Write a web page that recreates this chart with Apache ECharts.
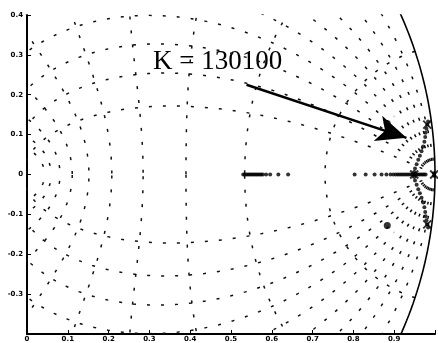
<!DOCTYPE html>
<html>
<head>
<meta charset="utf-8">
<script src="https://cdn.jsdelivr.net/npm/echarts@6/dist/echarts.min.js"></script>
<style>
  html, body { margin: 0; padding: 0; background: #fff; }
  #chart { width: 438px; height: 343px; }
</style>
</head>
<body>
<div id="chart"></div>
<script>
// z-plane grid parameters (MATLAB zgrid defaults)
const dampingRatios = [0.1, 0.2, 0.3, 0.4, 0.5, 0.6, 0.7, 0.8, 0.9]
const naturalFreqs = [0.1, 0.2, 0.3, 0.4, 0.5, 0.6, 0.7, 0.8, 0.9, 1.0] // x pi/T

// root locus points
const locusRealLeft = [0.530, 0.534, 0.538, 0.542, 0.546, 0.550, 0.554, 0.558, 0.562, 0.566, 0.570, 0.574, 0.578, 0.586, 0.596, 0.616, 0.640]
const locusRealRight = [0.803, 0.830, 0.852, 0.869, 0.881, 0.891, 0.898, 0.904, 0.909, 0.914, 0.919, 0.924, 0.929, 0.934, 0.939, 0.944, 0.949, 0.953, 0.957, 0.961, 0.965, 0.969, 0.973, 0.977]
const locusUpper = [[0.949, 0.006], [0.951, 0.015], [0.955, 0.026], [0.959, 0.037], [0.963, 0.047], [0.967, 0.058], [0.971, 0.070], [0.974, 0.082], [0.976, 0.094], [0.977, 0.105], [0.979, 0.115], [0.981, 0.125], [0.983, 0.133]]
const openPoles = [[0.981, 0.125], [0.981, -0.125], [0.949, 0], [0.998, 0]]
const openZeros = [[0.053, 0], [0.900, 0.143], [0.900, -0.143]]
const gainPoles = [[0.883, 0.128], [0.883, -0.128]]

const annotationText = 'K = 130100'
const arrowFrom = [0.538, 0.225]
const arrowTo = [0.930, 0.092]

const chart = echarts.init(document.getElementById('chart'))

function zetaCurve(zeta, sign) {
  const m = zeta / Math.sqrt(1 - zeta * zeta)
  const pts = []
  for (let i = 0; i <= 200; i++) {
    const phi = Math.PI * i / 200
    const r = Math.exp(-m * phi)
    pts.push([r * Math.cos(phi), sign * r * Math.sin(phi)])
  }
  return pts
}

function wnCurve(wn, sign) {
  const pts = []
  for (let i = 0; i <= 200; i++) {
    const th = Math.PI / 2 + (Math.PI / 2) * i / 200
    const a = wn * Math.PI * Math.cos(th)
    const b = wn * Math.PI * Math.sin(th)
    const r = Math.exp(a)
    pts.push([r * Math.cos(b), sign * r * Math.sin(b)])
  }
  return pts
}

const gridStyle = { color: '#111', width: 1.5, type: [3, 11] }
const gridSeries = []
dampingRatios.forEach((z) => {
  ;[1, -1].forEach((s) => {
    gridSeries.push({ type: 'line', data: zetaCurve(z, s), showSymbol: false, silent: true, lineStyle: gridStyle, z: 1 })
  })
})
naturalFreqs.forEach((w) => {
  ;[1, -1].forEach((s) => {
    gridSeries.push({ type: 'line', data: wnCurve(w, s), showSymbol: false, silent: true, lineStyle: gridStyle, z: 1 })
  })
})

const unitCircle = []
for (let i = -30; i <= 30; i++) {
  const a = 0.45 * i / 30
  unitCircle.push([Math.cos(a), Math.sin(a)])
}

const locusPts = []
locusRealLeft.forEach((x) => locusPts.push([x, 0]))
locusRealRight.forEach((x) => locusPts.push([x, 0]))
locusUpper.forEach((p) => {
  locusPts.push(p)
  locusPts.push([p[0], -p[1]])
})

const fmt = (v) => (Math.abs(v - 1) < 1e-9 || Math.abs(v + 0.4) < 1e-9 ? '' : String(Math.round(v * 10) / 10))

const option = {
  animation: false,
  backgroundColor: '#fff',
  grid: { left: 27, right: 0, top: 15, bottom: 8 },
  xAxis: {
    type: 'value', min: 0, max: 1, interval: 0.1,
    axisLine: { onZero: false, lineStyle: { color: '#000', width: 2 } },
    axisTick: { inside: true, length: 4, lineStyle: { color: '#000' } },
    axisLabel: { formatter: fmt, fontSize: 7, fontWeight: 'bold', color: '#000', margin: 2, fontFamily: 'DejaVu Sans' },
    splitLine: { show: false }
  },
  yAxis: {
    type: 'value', min: -0.4, max: 0.4, interval: 0.1,
    axisLine: { show: true, onZero: false, lineStyle: { color: '#000', width: 2 } },
    axisTick: { show: true, inside: true, length: 4, lineStyle: { color: '#000' } },
    axisLabel: { formatter: fmt, fontSize: 7, fontWeight: 'bold', color: '#000', margin: 4, fontFamily: 'DejaVu Sans' },
    splitLine: { show: false }
  },
  graphic: [{
    type: 'text', left: 153, top: 48,
    style: { text: annotationText, font: '27px "Liberation Serif"', fill: '#000' }
  }],
  series: gridSeries.concat([
    {
      type: 'line', data: unitCircle, showSymbol: false, silent: true,
      lineStyle: { color: '#000', width: 1.6 }, z: 3
    },
    {
      type: 'scatter', data: locusPts, symbol: 'circle', symbolSize: 4,
      itemStyle: { color: '#000' }, z: 4
    },
    {
      type: 'scatter', data: openPoles, symbol: 'path://M0,0L10,10M10,0L0,10', symbolSize: 8,
      itemStyle: { color: 'none', borderColor: '#000', borderWidth: 2 }, z: 5
    },
    {
      type: 'scatter', data: openZeros, symbol: 'emptyCircle', symbolSize: 6,
      itemStyle: { color: '#fff', borderColor: '#000', borderWidth: 1.2 }, z: 5
    },
    {
      type: 'scatter', data: gainPoles, symbol: 'circle', symbolSize: 7,
      itemStyle: { color: '#000' }, z: 5,
      markLine: {
        silent: true, animation: false,
        symbol: ['none', 'arrow'], symbolSize: [20, 30],
        label: { show: false },
        lineStyle: { color: '#000', width: 2.5, type: 'solid' },
        data: [[{ coord: arrowFrom }, { coord: arrowTo }]]
      }
    }
  ])
}

chart.setOption(option)
</script>
</body>
</html>
